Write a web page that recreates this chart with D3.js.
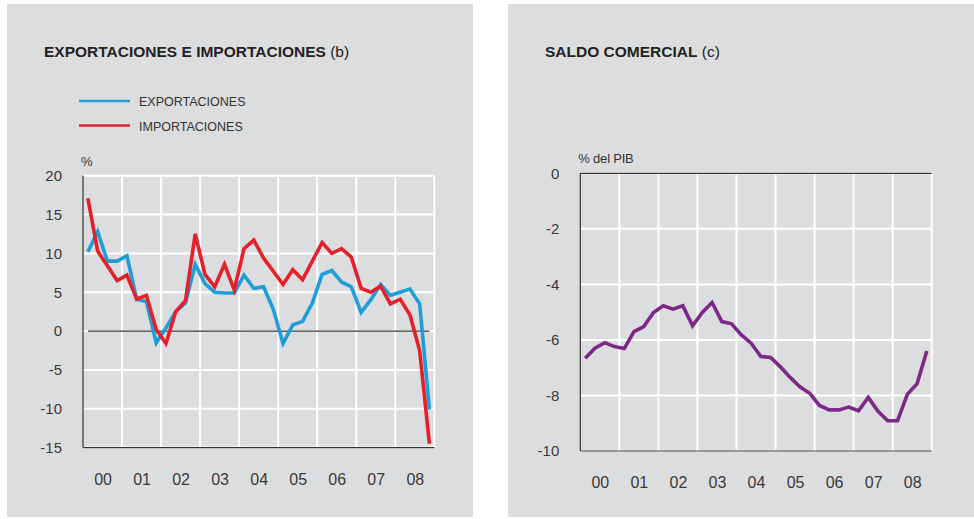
<!DOCTYPE html>
<html>
<head>
<meta charset="utf-8">
<script src="https://cdn.jsdelivr.net/npm/d3@7"></script>
<style>
  body { margin: 0; background: #fff; }
  svg { display: block; font-family: "Liberation Sans", Arial, sans-serif; }
  .tick text { fill: #3a3a3a; }
</style>
</head>
<body>
<svg id="chart" width="974" height="519"></svg>
<script>
// quarterly data 2000Q1 - 2008Q4
const years = ['00', '01', '02', '03', '04', '05', '06', '07', '08'];

const exportaciones = [10.2, 12.8, 9.0, 9.0, 9.7, 4.1, 3.8, -1.5, 0.4, 2.5, 3.6, 8.6,
  6.1, 5.0, 4.9, 4.9, 7.2, 5.5, 5.7, 2.8, -1.6, 0.8, 1.25, 3.6,
  7.3, 7.8, 6.3, 5.7, 2.4, 4.05, 6.0, 4.6, 5.0, 5.4, 3.5, -10.1];

const importaciones = [17.1, 10.3, 8.4, 6.5, 7.2, 4.1, 4.6, 0.2, -1.6, 2.5, 3.9, 12.5,
  7.3, 5.7, 8.6, 5.3, 10.6, 11.7, 9.4, 7.7, 6.0, 7.9, 6.6, 9.0,
  11.4, 10.0, 10.6, 9.5, 5.5, 5.0, 5.8, 3.5, 4.1, 2.1, -2.5, -14.5];

const saldo = [-6.66, -6.30, -6.10, -6.24, -6.31, -5.70, -5.52, -5.01, -4.77, -4.89, -4.77, -5.49,
  -5.01, -4.65, -5.34, -5.42, -5.82, -6.12, -6.60, -6.63, -6.97, -7.35, -7.69, -7.92,
  -8.36, -8.52, -8.52, -8.42, -8.55, -8.07, -8.57, -8.91, -8.91, -7.96, -7.58, -6.40];

const leftTicks = [20, 15, 10, 5, 0, -5, -10, -15];
const rightTicks = [0, -2, -4, -6, -8, -10];

const svg = d3.select('#chart');

// grey panels
svg.append('rect').attr('x', 7).attr('y', 4).attr('width', 466).attr('height', 513).attr('fill', '#dcdddf');
svg.append('rect').attr('x', 508).attr('y', 4).attr('width', 466).attr('height', 513).attr('fill', '#dcdddf');

function drawPanel(opts) {
  const g = svg.append('g');
  const x = d3.scaleLinear().domain([0, years.length * 4]).range([opts.left, opts.right]);
  const y = d3.scaleLinear().domain(opts.domain).range([opts.bottom, opts.top]);

  // title
  const t = g.append('text').attr('x', opts.titleX).attr('y', 56.5).attr('fill', '#222')
    .style('font-size', '15.5px');
  t.append('tspan').attr('font-weight', 'bold').text(opts.title);
  t.append('tspan').text(' ' + opts.note);

  // white grid
  g.selectAll('.hgrid').data(opts.ticks).join('line')
    .attr('x1', opts.left).attr('x2', opts.right)
    .attr('y1', d => y(d)).attr('y2', d => y(d))
    .attr('stroke', '#fff').attr('stroke-width', 2);
  g.selectAll('.vgrid').data(d3.range(1, years.length + 1)).join('line')
    .attr('x1', d => x(d * 4)).attr('x2', d => x(d * 4))
    .attr('y1', opts.top).attr('y2', opts.bottom)
    .attr('stroke', '#fff').attr('stroke-width', 2);

  // y axis labels (plain hyphen for negatives, like the original)
  const yAxis = d3.axisLeft(y).tickValues(opts.ticks).tickFormat(d => String(d))
    .tickSize(0).tickPadding(21);
  const ya = g.append('g').attr('transform', `translate(${opts.left},0)`).call(yAxis);
  ya.select('.domain').remove();
  ya.selectAll('text').style('font-size', '15px');

  // year labels
  const xAxis = d3.axisBottom(x).tickValues(years.map((d, i) => i * 4 + 2))
    .tickFormat((d, i) => years[i]).tickSize(0).tickPadding(26);
  const xa = g.append('g').attr('transform', `translate(0,${opts.bottom})`).call(xAxis);
  xa.select('.domain').remove();
  xa.selectAll('text').style('font-size', '16px');

  // dark axes
  g.append('line').attr('x1', opts.left).attr('x2', opts.left).attr('y1', opts.top).attr('y2', opts.bottom)
    .attr('stroke', '#333').attr('stroke-width', 1.2);
  g.append('line').attr('x1', opts.left).attr('x2', opts.right).attr('y1', opts.bottom).attr('y2', opts.bottom)
    .attr('stroke', '#333').attr('stroke-width', 1.2);

  // unit label
  g.append('text').attr('x', opts.left - 2).attr('y', opts.top - 10).attr('fill', '#333')
    .style('font-size', '13px').style('letter-spacing', '-0.2px').text(opts.unit);

  return { g, x, y };
}

// left chart
const L = drawPanel({
  left: 83, right: 434.3, top: 175.7, bottom: 447.6,
  domain: [-15, 20], ticks: leftTicks,
  titleX: 44, title: 'EXPORTACIONES E IMPORTACIONES', note: '(b)', unit: '%'
});

// zero line across data range
L.g.append('line')
  .attr('x1', L.x(0.5)).attr('x2', L.x(35.5))
  .attr('y1', L.y(0)).attr('y2', L.y(0))
  .attr('stroke', '#333').attr('stroke-width', 1.2);

const lineL = d3.line().x((d, i) => L.x(i + 0.5)).y(d => L.y(d));
L.g.append('path').datum(exportaciones).attr('d', lineL)
  .attr('fill', 'none').attr('stroke', '#1f9dd9').attr('stroke-width', 3.6);
L.g.append('path').datum(importaciones).attr('d', lineL)
  .attr('fill', 'none').attr('stroke', '#e5202a').attr('stroke-width', 3.6);

// legend
const legend = [['EXPORTACIONES', '#1f9dd9'], ['IMPORTACIONES', '#e5202a']];
legend.forEach(([name, c], i) => {
  const ly = 101 + i * 24.5;
  L.g.append('line').attr('x1', 79).attr('x2', 130).attr('y1', ly).attr('y2', ly)
    .attr('stroke', c).attr('stroke-width', 2.5);
  L.g.append('text').attr('x', 139).attr('y', ly + 5).attr('fill', '#333')
    .style('font-size', '12.5px').text(name);
});

// right chart
const R = drawPanel({
  left: 580.3, right: 931.7, top: 173.3, bottom: 451,
  domain: [-10, 0], ticks: rightTicks,
  titleX: 545, title: 'SALDO COMERCIAL', note: '(c)', unit: '% del PIB'
});
R.g.append('line').attr('x1', R.x(0)).attr('x2', R.x(36)).attr('y1', R.y(0)).attr('y2', R.y(0))
  .attr('stroke', '#333').attr('stroke-width', 1.2);

const lineR = d3.line().x((d, i) => R.x(i + 0.5)).y(d => R.y(d));
R.g.append('path').datum(saldo).attr('d', lineR)
  .attr('fill', 'none').attr('stroke', '#7d2887').attr('stroke-width', 3.6);
</script>
</body>
</html>
